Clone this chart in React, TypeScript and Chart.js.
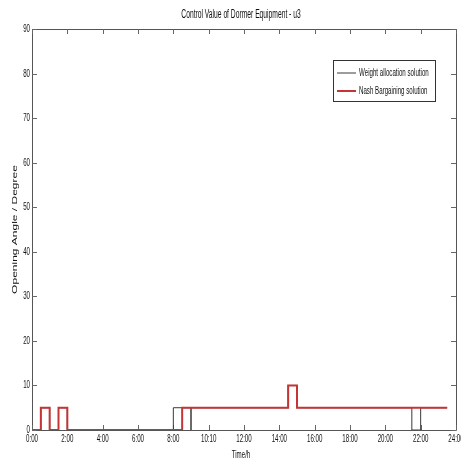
import React, { useEffect, useRef } from 'react';
import { Chart, registerables } from 'chart.js';

Chart.register(...registerables);

const TITLE = 'Control Value of Dormer Equipment - u3';
const X_TITLE = 'Time/h';
const Y_TITLE = 'Opening Angle / Degree';
const X_TICK_LABELS = ['0:00', '2:00', '4:00', '6:00', '8:00', '10:10', '12:00', '14:00', '16:00', '18:00', '20:00', '22:00', '24:00'];
const Y_MIN = 0;
const Y_MAX = 90;
const Y_STEP = 10;
const SERIES_NAMES = ['Weight allocation solution', 'Nash Bargaining solution'];

// change times (h) and the value taken from that time on (stairs)
const weightTimes = [0, 0.5, 1, 1.5, 2, 8, 9, 9, 14.5, 15, 21.5, 22, 23.5];
const weightValues = [0, 5, 0, 5, 0, 5, 0, 5, 10, 5, 0, 5, 5];
const nashTimes = [0, 0.5, 1, 1.5, 2, 8.5, 14.5, 15, 23.5];
const nashValues = [0, 5, 0, 5, 0, 5, 10, 5, 5];

const FONT = "'Liberation Sans', Arial, sans-serif";
const SQUEEZE = 0.56;
const BLACK = '#3a3a3a';
const RED = '#c23636';
const TEXT = '#111';

function squeezedText(ctx: any, text: string, x: number, y: number, size: number, align: string, rotate = false) {
  ctx.save();
  ctx.translate(x, y);
  ctx.scale(SQUEEZE, 1);
  if (rotate) ctx.rotate(-Math.PI / 2);
  ctx.font = `${size}px ${FONT}`;
  ctx.textAlign = align;
  ctx.textBaseline = 'middle';
  ctx.fillStyle = TEXT;
  ctx.fillText(text, 0, 0);
  ctx.restore();
}

const framePlugin = {
  id: 'frame',
  beforeDatasetsDraw(chart: any) {
    const { ctx, chartArea } = chart;
    const { left, right, top, bottom } = chartArea;
    const xs = chart.scales.x;
    const ys = chart.scales.y;
    ctx.save();
    ctx.strokeStyle = '#555';
    ctx.lineWidth = 1;
    ctx.beginPath();
    ctx.rect(Math.round(left) + 0.5, Math.round(top) + 0.5, Math.round(right - left), Math.round(bottom - top));
    ctx.stroke();
    const tl = 5;
    ctx.strokeStyle = '#666';
    ctx.beginPath();
    xs.ticks.forEach((t: any) => {
      const px = Math.round(xs.getPixelForValue(t.value)) + 0.5;
      ctx.moveTo(px, bottom);
      ctx.lineTo(px, bottom - tl);
      ctx.moveTo(px, top);
      ctx.lineTo(px, top + tl);
    });
    ys.ticks.forEach((t: any) => {
      const py = Math.round(ys.getPixelForValue(t.value)) + 0.5;
      ctx.moveTo(left, py);
      ctx.lineTo(left + tl, py);
      ctx.moveTo(right, py);
      ctx.lineTo(right - tl, py);
    });
    ctx.stroke();
    ctx.restore();

    // tick labels
    xs.ticks.forEach((t: any, i: number) => {
      squeezedText(ctx, X_TICK_LABELS[i], xs.getPixelForValue(t.value), bottom + 9, 11, 'center');
    });
    ys.ticks.forEach((t: any) => {
      squeezedText(ctx, String(t.value), left - 2, ys.getPixelForValue(t.value), 11, 'right');
    });
    // axis titles
    squeezedText(ctx, X_TITLE, (left + right) / 2 - 3, bottom + 25, 11, 'center');
    squeezedText(ctx, Y_TITLE, 15.5, (top + bottom) / 2, 12, 'center', true);
    // chart title
    squeezedText(ctx, TITLE, (left + right) / 2 - 3, 15, 12, 'center');
  },
  afterDraw(chart: any) {
    const { ctx, chartArea } = chart;
    ctx.save();
    const bx = chartArea.right - 123;
    const by = chartArea.top + 31;
    const bw = 102;
    const bh = 41;
    ctx.fillStyle = '#fff';
    ctx.fillRect(bx, by, bw, bh);
    ctx.strokeStyle = '#333';
    ctx.lineWidth = 1;
    ctx.strokeRect(bx + 0.5, by + 0.5, bw, bh);
    const colors = [BLACK, RED];
    const widths = [1, 2];
    SERIES_NAMES.forEach((name, i) => {
      const y = by + 13 + i * 18;
      ctx.strokeStyle = colors[i];
      ctx.lineWidth = widths[i];
      ctx.beginPath();
      ctx.moveTo(bx + 4, y);
      ctx.lineTo(bx + 23, y);
      ctx.stroke();
      squeezedText(ctx, name, bx + 26, y, 11, 'left');
    });
    ctx.restore();
  },
};

export default function App() {
  const ref = useRef<HTMLCanvasElement | null>(null);
  useEffect(() => {
    if (!ref.current) return;
    const chart = new Chart(ref.current, {
      type: 'line',
      data: {
        datasets: [
          {
            label: SERIES_NAMES[1],
            data: nashTimes.map((t, i) => ({ x: t, y: nashValues[i] })),
            borderColor: RED,
            borderWidth: 2,
            stepped: true,
            pointRadius: 0,
            fill: false,
            order: 0,
          },
          {
            label: SERIES_NAMES[0],
            data: weightTimes.map((t, i) => ({ x: t, y: weightValues[i] })),
            borderColor: BLACK,
            borderWidth: 1,
            stepped: true,
            pointRadius: 0,
            fill: false,
            order: 1,
          },
        ],
      },
      options: {
        animation: false,
        responsive: false,
        layout: { padding: { top: 29, right: 5, left: 0, bottom: 0 } },
        plugins: { legend: { display: false }, title: { display: false }, tooltip: { enabled: false } },
        scales: {
          x: {
            type: 'linear',
            min: 0,
            max: 24,
            grid: { display: false, drawTicks: false },
            border: { display: false },
            ticks: { display: false, stepSize: 2, autoSkip: false, maxRotation: 0 },
            afterFit: (s: any) => {
              s.height = 32;
              s.paddingLeft = 0;
              s.paddingRight = 0;
            },
          },
          y: {
            min: Y_MIN,
            max: Y_MAX,
            grid: { display: false, drawTicks: false },
            border: { display: false },
            ticks: { display: false, stepSize: Y_STEP },
            afterFit: (s: any) => {
              s.width = 32;
              s.paddingTop = 0;
              s.paddingBottom = 0;
            },
          },
        },
      } as any,
      plugins: [framePlugin],
    });
    return () => chart.destroy();
  }, []);
  return (
    <canvas
      ref={ref}
      width={461}
      height={462}
      style={{ position: 'absolute', left: 0, top: 0, display: 'block', background: '#fff' }}
    />
  );
}
